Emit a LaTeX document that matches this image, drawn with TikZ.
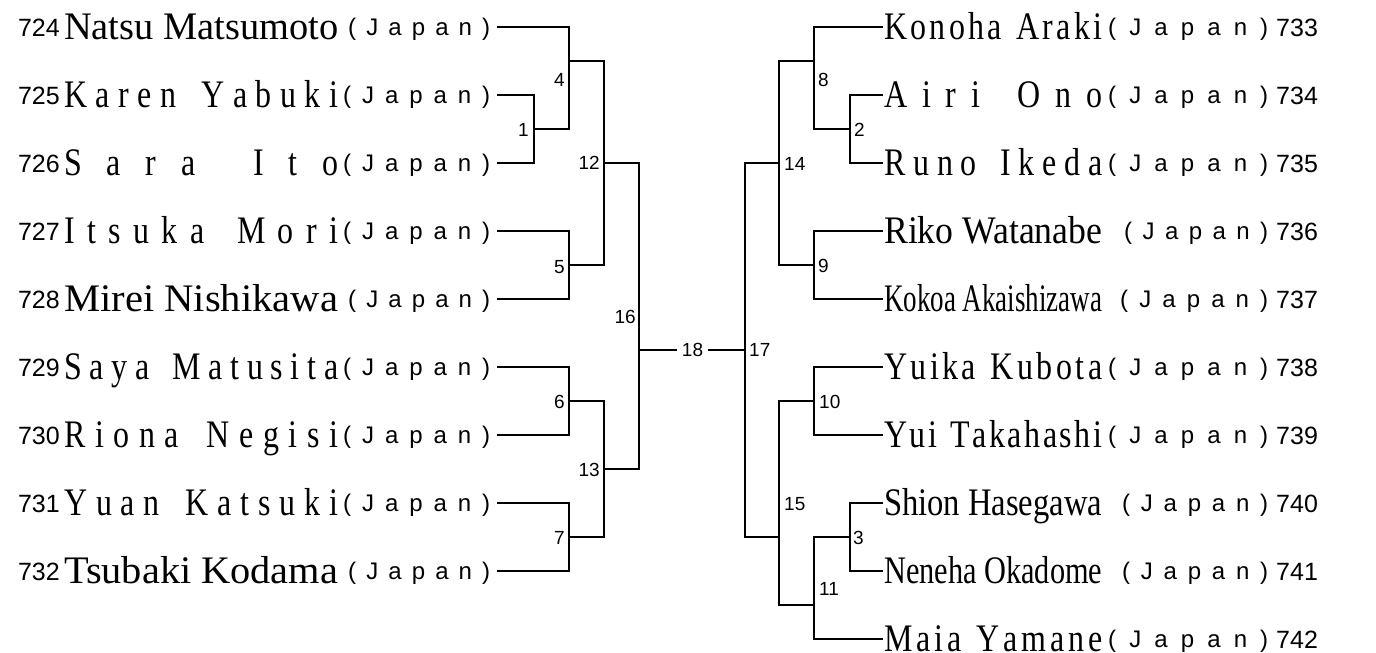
\documentclass[tikz,border=0pt]{standalone}
\usepackage{fontspec}
\usepackage{graphicx}
\setmainfont{Liberation Serif}
\newfontfamily\namef[FakeStretch=0.82]{Liberation Serif}
\newfontfamily\sansf{Liberation Sans}
\newlength\fnbox
% spread characters evenly
\def\spr#1{\sprA#1\relax}
\def\sprA#1{#1\sprB}
\def\sprB#1{\ifx\relax#1\else\hfill#1\expandafter\sprB\fi}
% fit mode: scale horizontally to box width
\newcommand\fitnm[2]{\setlength\fnbox{#1pt}\resizebox{\fnbox}{\height}{#2}}
% spread mode: distribute characters over box width
\newcommand\sprnm[2]{\setlength\fnbox{#1pt}\makebox[\fnbox][s]{\expandafter\spr\expandafter{#2}}}
\tikzset{
  line/.style={line width=1.6pt, line cap=rect},
  nm/.style={inner sep=0pt, anchor=base west, font=\namef\fontsize{39}{41}\selectfont},
  jp/.style={inner sep=0pt, anchor=base west, font=\sansf\fontsize{24}{26}\selectfont},
  numl/.style={inner sep=0pt, anchor=base east, font=\sansf\fontsize{25}{27}\selectfont},
  numr/.style={inner sep=0pt, anchor=base west, font=\sansf\fontsize{25}{27}\selectfont},
  lbl/.style={inner sep=0pt, font=\sansf\fontsize{19}{21}\selectfont},
}
\begin{document}
\begin{tikzpicture}[x=1pt,y=-1pt]
\useasboundingbox (0,0) rectangle (1376,653);
% ---------- left side texts ----------
\foreach \num/\k/\mode/\name/\jx in {
  724/0/fit/Natsu~Matsumoto/348,
  725/2/spr/Karen~Yabuki/343,
  726/4/spr/Sara~Ito/343,
  727/6/spr/Itsuka~Mori/343,
  728/8/fit/Mirei~Nishikawa/348,
  729/10/spr/Saya~Matusita/343,
  730/12/spr/Riona~Negisi/343,
  731/14/spr/Yuan~Katsuki/343,
  732/16/fit/Tsubaki~Kodama/348}{
  \pgfmathsetmacro\yy{27+34*\k}
  \pgfmathsetmacro\jw{490-\jx}
  \node[numl] (c\num) at (60,\yy+9) {\num};
  \node[nm] (n\num) at (64,\yy+12.5) {\csname\mode nm\endcsname{274}{\name}};
  \node[jp] (j\num) at (\jx,\yy+8.5) {\sprnm{\jw}{(Japan)}};
  \coordinate (P\num) at (498,\yy);
}
% ---------- right side texts ----------
\foreach \num/\k/\mode/\name/\jx in {
  733/0/spr/Konoha~Araki/1108,
  734/2/spr/Airi~Ono/1108,
  735/4/spr/Runo~Ikeda/1108,
  736/6/fit/Riko~Watanabe/1124,
  737/8/fit/Kokoa~Akaishizawa/1120,
  738/10/spr/Yuika~Kubota/1108,
  739/12/spr/Yui~Takahashi/1108,
  740/14/fit/Shion~Hasegawa/1122,
  741/16/fit/Neneha~Okadome/1122,
  742/18/spr/Maia~Yamane/1108}{
  \pgfmathsetmacro\yy{27+34*\k}
  \pgfmathsetmacro\jw{1268-\jx}
  \node[nm] (n\num) at (884,\yy+12.5) {\csname\mode nm\endcsname{218}{\name}};
  \node[jp] (j\num) at (\jx,\yy+8.5) {\sprnm{\jw}{(Japan)}};
  \node[numr] (c\num) at (1276,\yy+9) {\num};
  \coordinate (P\num) at (882,\yy);
}
% ---------- junction coordinates ----------
\coordinate (O1) at (534,129);
\coordinate (X4) at (569,129);
\coordinate (O4) at (569,61);
\coordinate (O5) at (569,265);
\coordinate (O12) at (604,163);
\coordinate (O6) at (569,401);
\coordinate (O7) at (569,537);
\coordinate (O13) at (604,469);
\coordinate (O16) at (639,350);
\coordinate (O17) at (745,350);
\coordinate (O14) at (779,163);
\coordinate (O15) at (779,537);
\coordinate (O8) at (814,61);
\coordinate (X8) at (814,129);
\coordinate (O2) at (850,129);
\coordinate (O9) at (814,265);
\coordinate (O10) at (814,401);
\coordinate (O11) at (814,605);
\coordinate (O3) at (850,537);
\coordinate (X11) at (814,537);
% ---------- left bracket ----------
\draw[line] (P725) -| (O1) |- (P726);
\draw[line] (P724) -| (X4) -- (O1);
\draw[line] (P727) -| (O5) |- (P728);
\draw[line] (O4) -| (O12) |- (O5);
\draw[line] (P729) -| (O6) |- (P730);
\draw[line] (P731) -| (O7) |- (P732);
\draw[line] (O6) -| (O13) |- (O7);
\draw[line] (O12) -| (O16) |- (O13);
% ---------- final ----------
\node[lbl, inner xsep=6pt] (f18) at (692.5,350) {18};
\draw[line] (O16) -- (f18);
\draw[line] (f18) -- (O17);
% ---------- right bracket ----------
\draw[line] (O14) -| (O17) |- (O15);
\draw[line] (O8) -| (O14) |- (O9);
\draw[line] (P733) -| (X8) -- (O2);
\draw[line] (P734) -| (O2) |- (P735);
\draw[line] (P736) -| (O9) |- (P737);
\draw[line] (O10) -| (O15) |- (O11);
\draw[line] (P738) -| (O10) |- (P739);
\draw[line] (O3) -- (X11) |- (P742);
\draw[line] (P740) -| (O3) |- (P741);
% ---------- match labels ----------
\node[lbl, anchor=east] (m1) at (529,130) {1};
\node[lbl, anchor=east] (m4) at (565,80) {4};
\node[lbl, anchor=east] (m12) at (600,163) {12};
\node[lbl, anchor=east] (m5) at (565,267) {5};
\node[lbl, anchor=east] (m16) at (636,317) {16};
\node[lbl, anchor=east] (m6) at (565,402) {6};
\node[lbl, anchor=east] (m13) at (600,470) {13};
\node[lbl, anchor=east] (m7) at (565,538) {7};
\node[lbl, anchor=west] (m8) at (818,80) {8};
\node[lbl, anchor=west] (m2) at (854,130) {2};
\node[lbl, anchor=west] (m14) at (784,164) {14};
\node[lbl, anchor=west] (m9) at (818,266) {9};
\node[lbl, anchor=west] (m17) at (749,350) {17};
\node[lbl, anchor=west] (m10) at (819,402) {10};
\node[lbl, anchor=west] (m15) at (784,504) {15};
\node[lbl, anchor=west] (m3) at (853,538) {3};
\node[lbl, anchor=west] (m11) at (819,589) {11};
\end{tikzpicture}
\end{document}
